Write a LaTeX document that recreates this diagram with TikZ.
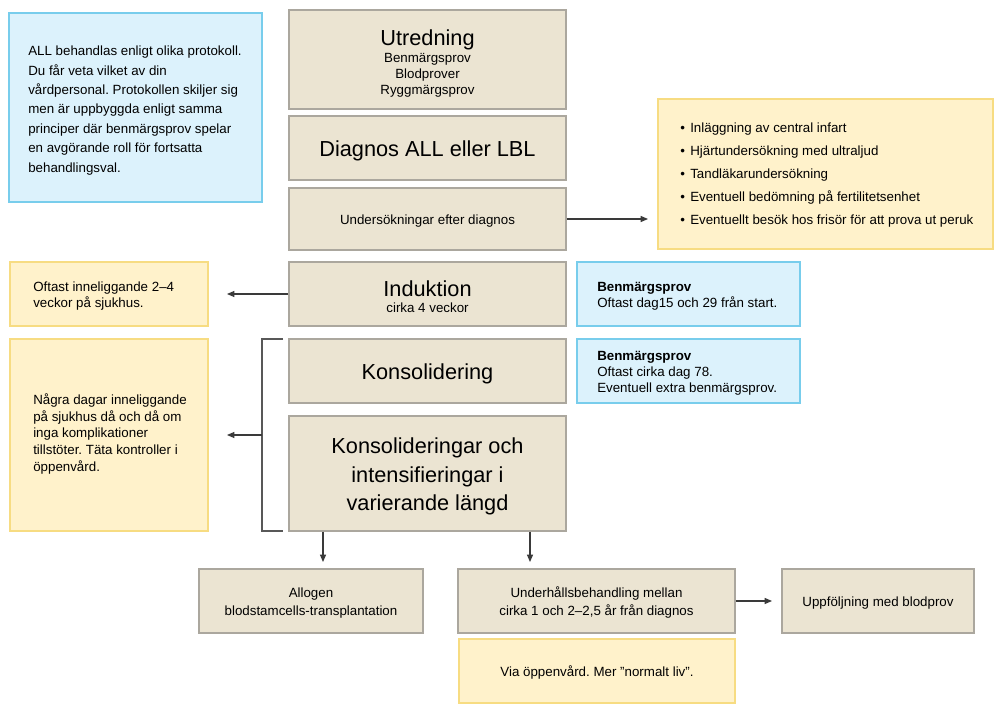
\documentclass[tikz,border=0pt]{standalone}
\usepackage{fontspec}
\setmainfont{Liberation Sans}
\usetikzlibrary{arrows.meta,fit}
\frenchspacing
\definecolor{beigefill}{HTML}{EBE4D2}
\definecolor{beigeline}{HTML}{ABA79E}
\definecolor{yelfill}{HTML}{FFF2CB}
\definecolor{yelline}{HTML}{F7DC82}
\definecolor{bluefill}{HTML}{DCF2FC}
\definecolor{blueline}{HTML}{78CDEC}
\definecolor{arrowgray}{HTML}{3A3A3A}
\tikzset{
  box/.style={draw=beigeline, fill=beigefill, line width=1pt, inner sep=0pt, rectangle},
  ybox/.style={draw=yelline, fill=yelfill, line width=1pt, inner sep=0pt, rectangle},
  bbox/.style={draw=blueline, fill=bluefill, line width=1pt, inner sep=0pt, rectangle},
  txt/.style={inner sep=0pt, align=center, yshift=-1.5pt, font=\fontsize{10pt}{12pt}\selectfont},
  ltxt/.style={inner sep=0pt, align=left, anchor=west, yshift=-1.5pt, font=\fontsize{10pt}{12pt}\selectfont},
  title/.style={inner sep=0pt, align=center, yshift=-1.8pt, font=\fontsize{16.3pt}{21pt}\selectfont},
  conn/.style={draw=arrowgray, line width=0.8pt, -{Triangle[length=5.5pt,width=4.5pt]}},
  brack/.style={draw=arrowgray!85, line width=0.9pt},
}
\begin{document}
\begin{tikzpicture}[x=0.75pt,y=-0.75pt]
\useasboundingbox (0,0) rectangle (1000,709);
% boxes
\node[bbox, fit={(9,13)(262,202)}] (info) {};
\node[box, fit={(289,10)(566,109)}] (utr) {};
\node[box, fit={(289,116)(566,180)}] (diag) {};
\node[box, fit={(289,188)(566,250)}] (unders) {};
\node[ybox, fit={(658,99)(993,249)}] (list) {};
\node[box, fit={(289,262)(566,326)}] (ind) {};
\node[ybox, fit={(10,262)(208,326)}] (oft) {};
\node[bbox, fit={(577,262)(800,326)}] (bm1) {};
\node[box, fit={(289,339)(566,403)}] (kons) {};
\node[bbox, fit={(577,339)(800,403)}] (bm2) {};
\node[box, fit={(289,416)(566,531)}] (konsi) {};
\node[ybox, fit={(10,339)(208,531)}] (nagra) {};
\node[box, fit={(199,569)(423,633)}] (allo) {};
\node[box, fit={(458,569)(735,633)}] (underh) {};
\node[box, fit={(782,569)(974,633)}] (uppf) {};
\node[ybox, fit={(459,639)(735,703)}] (via) {};
% texts
\node[ltxt, font=\fontsize{10pt}{14.6pt}\selectfont] at (28,108.5) {ALL behandlas enligt olika protokoll.\\Du får veta vilket av din\\vårdpersonal. Protokollen skiljer sig\\men är uppbyggda enligt samma\\principer där benmärgsprov spelar\\en avgörande roll för fortsatta\\behandlingsval.};
\node[title] at (427.5,37) {Utredning};
\node[txt] at (427.5,73) {Benmärgsprov\\Blodprover\\Ryggmärgsprov};
\node[title] at (diag.center) {Diagnos ALL eller LBL};
\node[txt] at (unders.center) {Undersökningar efter diagnos};
\node[ltxt, font=\fontsize{10pt}{17.25pt}\selectfont] at (680,173.5) {\makebox[7.5pt][l]{\textbullet}Inläggning av central infart\\\makebox[7.5pt][l]{\textbullet}Hjärtundersökning med ultraljud\\\makebox[7.5pt][l]{\textbullet}Tandläkarundersökning\\\makebox[7.5pt][l]{\textbullet}Eventuell bedömning på fertilitetsenhet\\\makebox[7.5pt][l]{\textbullet}Eventuellt besök hos frisör för att prova ut peruk};
\node[title] at (427.5,286) {Induktion};
\node[txt] at (427.5,306) {cirka 4 veckor};
\node[ltxt] at (33,294) {Oftast inneliggande 2–4\\veckor på sjukhus.};
\node[ltxt] at (597,294.5) {\textbf{Benmärgsprov}\\Oftast dag15 och 29 från start.};
\node[title] at (kons.center) {Konsolidering};
\node[ltxt] at (597,371) {\textbf{Benmärgsprov}\\Oftast cirka dag 78.\\Eventuell extra benmärgsprov.};
\node[title, font=\fontsize{16.3pt}{21.3pt}\selectfont] at ([yshift=-0.5pt]konsi.center) {Konsolideringar och\\intensifieringar i\\varierande längd};
\node[ltxt, font=\fontsize{10pt}{12.4pt}\selectfont] at (33,432) {Några dagar inneliggande\\på sjukhus då och då om\\inga komplikationer\\tillstöter. Täta kontroller i\\öppenvård.};
\node[txt, font=\fontsize{10pt}{13.5pt}\selectfont] at (allo.center) {Allogen\\blodstamcells-transplantation};
\node[txt, font=\fontsize{10pt}{13.5pt}\selectfont] at (underh.center) {Underhållsbehandling mellan\\cirka 1 och 2–2,5 år från diagnos};
\node[txt] at (uppf.center) {Uppföljning med blodprov};
\node[txt] at (via.center) {Via öppenvård. Mer ”normalt liv”.};
% connectors
\coordinate (listin) at (648,219);
\draw[conn] (unders.east |- listin) -- (listin);
\coordinate (oftin) at (227,294);
\draw[conn] (ind.west |- oftin) -- (oftin);
\coordinate (brtop) at (283,339);
\coordinate (brbot) at (283,531);
\coordinate (brmid) at (262,435);
\coordinate (nagin) at (227,435);
\draw[brack] (brtop) -- (262,339) -- (262,531) -- (brbot);
\draw[conn] (brmid) -- (nagin);
\coordinate (d1) at (323,562);
\coordinate (d2) at (530,562);
\draw[conn] (d1 |- konsi.south) -- (d1);
\draw[conn] (d2 |- konsi.south) -- (d2);
\coordinate (uin) at (772,601);
\draw[conn] (underh.east |- uin) -- (uin);
\end{tikzpicture}
\end{document}
